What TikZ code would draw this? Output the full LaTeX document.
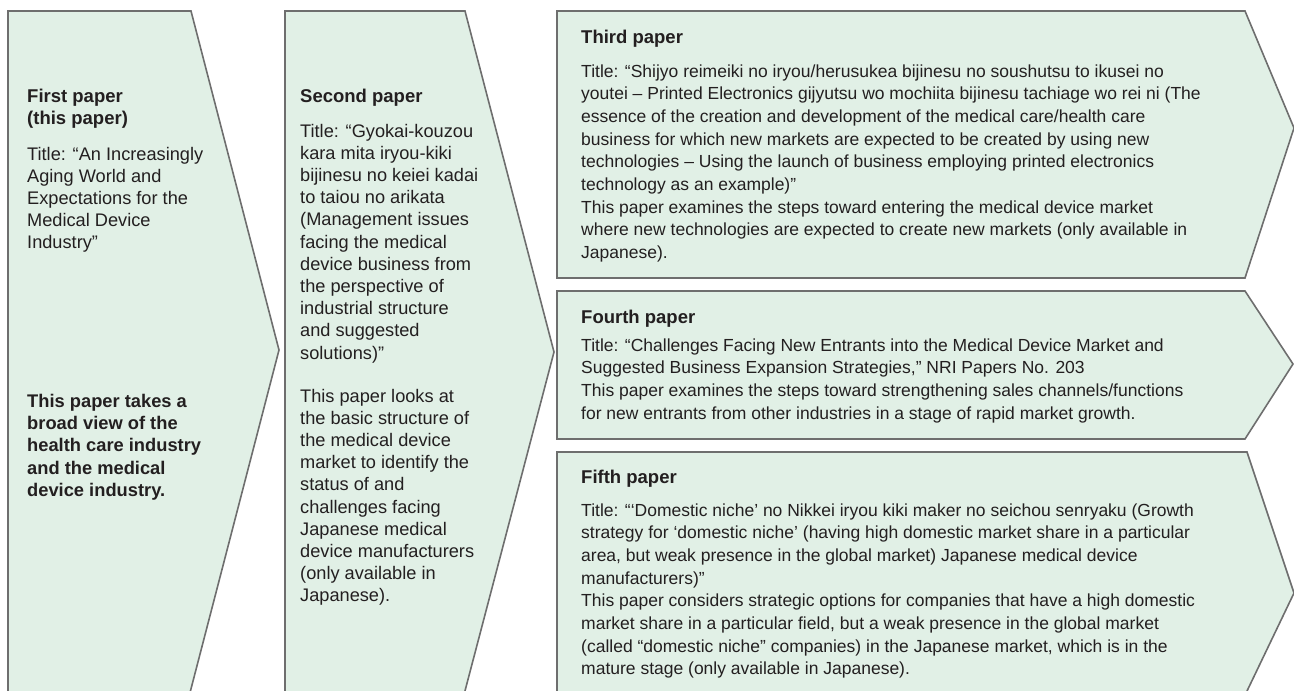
\documentclass[tikz,border=0pt]{standalone}
\usepackage{fontspec}
\setmainfont{Liberation Sans}
\definecolor{boxfill}{HTML}{E1F0E6}
\definecolor{boxline}{HTML}{6E6E6E}
\definecolor{ink}{HTML}{231F20}
% a top-aligned block of text whose reference point is its first baseline
\newcommand\textblock[1]{\parbox[t]{700pt}{\raggedright #1}}
\begin{document}
\begin{tikzpicture}[x=1pt,y=-1pt,
  paperbox/.style={fill=boxfill,draw=boxline,line width=1.6pt,line join=miter},
  bodytext/.style={anchor=base west,inner sep=0pt,text=ink,
    font=\fontsize{17.5}{22.7}\selectfont},
  narrowtext/.style={bodytext,font=\fontsize{18.2}{22.2}\selectfont},
  narrowbold/.style={bodytext,font=\fontsize{18.3}{22.4}\selectfont\bfseries},
  headtext/.style={bodytext,font=\fontsize{18.5}{22.4}\selectfont\bfseries}]
\useasboundingbox (0,0) rectangle (1294,691);
\begin{scope}
\clip (0,0) rectangle (1294,691);
% chevron-shaped panels, one per paper
\draw[paperbox] (8,11) -- (191,11) -- (279,350) -- (188.1,700) -- (8,700) -- cycle;
\draw[paperbox] (285,11) -- (465,11) -- (554,352) -- (462.6,700) -- (285,700) -- cycle;
\draw[paperbox] (557,11) -- (1245,11) -- (1294,128) -- (1245,278) -- (557,278) -- cycle;
\draw[paperbox] (557,291) -- (1245,291) -- (1293,364) -- (1245,439) -- (557,439) -- cycle;
\draw[paperbox] (557,452) -- (1247,452) -- (1294,593) -- (1242.7,700) -- (557,700) -- cycle;
\end{scope}

% first paper
\node[headtext] (h1) at (27,102) {\textblock{First paper\\(this paper)}};
\node[narrowtext] (t1) at (27,160) {\textblock{Title: “An Increasingly\\Aging World and\\Expectations for the\\Medical Device\\Industry”}};
\node[narrowbold] (b1) at (27,407) {\textblock{This paper takes a\\broad view of the\\health care industry\\and the medical\\device industry.}};

% second paper
\node[headtext] (h2) at (300,102) {\textblock{Second paper}};
\node[narrowtext] (t2) at (300,137) {\textblock{Title: “Gyokai-kouzou\\kara mita iryou-kiki\\bijinesu no keiei kadai\\to taiou no arikata\\(Management issues\\facing the medical\\device business from\\the perspective of\\industrial structure\\and suggested\\solutions)”}};
\node[narrowtext] (b2) at (300,402) {\textblock{This paper looks at\\the basic structure of\\the medical device\\market to identify the\\status of and\\challenges facing\\Japanese medical\\device manufacturers\\(only available in\\Japanese).}};

% third paper
\node[headtext] (h3) at (581,43) {\textblock{Third paper}};
\node[bodytext] (t3) at (581,77) {\textblock{Title: “Shijyo reimeiki no iryou/herusukea bijinesu no soushutsu to ikusei no\\youtei – Printed Electronics gijyutsu wo mochiita bijinesu tachiage wo rei ni (The\\essence of the creation and development of the medical care/health care\\business for which new markets are expected to be created by using new\\technologies – Using the launch of business employing printed electronics\\technology as an example)”\\This paper examines the steps toward entering the medical device market\\where new technologies are expected to create new markets (only available in\\Japanese).}};

% fourth paper
\node[headtext] (h4) at (581,323) {\textblock{Fourth paper}};
\node[bodytext] (t4) at (581,351) {\textblock{Title: “Challenges Facing New Entrants into the Medical Device Market and\\Suggested Business Expansion Strategies,” NRI Papers No. 203\\This paper examines the steps toward strengthening sales channels/functions\\for new entrants from other industries in a stage of rapid market growth.}};

% fifth paper
\node[headtext] (h5) at (581,483) {\textblock{Fifth paper}};
\node[bodytext] (t5) at (581,516) {\textblock{Title: “‘Domestic niche’ no Nikkei iryou kiki maker no seichou senryaku (Growth\\strategy for ‘domestic niche’ (having high domestic market share in a particular\\area, but weak presence in the global market) Japanese medical device\\manufacturers)”\\This paper considers strategic options for companies that have a high domestic\\market share in a particular field, but a weak presence in the global market\\(called “domestic niche” companies) in the Japanese market, which is in the\\mature stage (only available in Japanese).}};
\end{tikzpicture}
\end{document}
